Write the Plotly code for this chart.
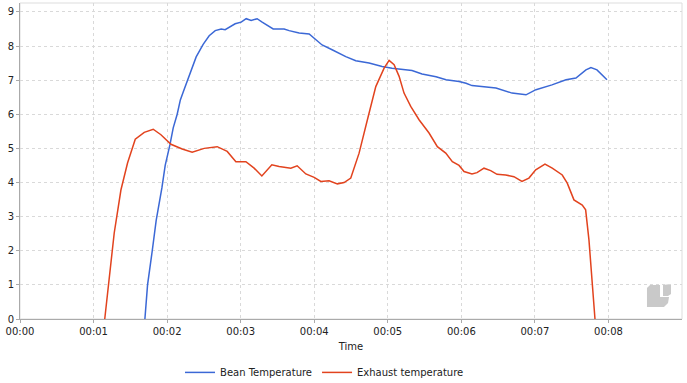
import plotly.graph_objects as go

# Time in minutes
bean_time = [1.698, 1.734, 1.798, 1.852, 1.929, 1.974, 2.038, 2.083, 2.137, 2.180, 2.219, 2.300,
             2.395, 2.490, 2.572, 2.654, 2.735, 2.789, 2.844, 2.925, 3.007, 3.075, 3.143, 3.224,
             3.292, 3.360, 3.442, 3.523, 3.591, 3.659, 3.704, 3.795, 3.931, 4.107, 4.243, 4.429,
             4.565, 4.746, 4.923, 5.058, 5.330, 5.466, 5.656, 5.792, 5.969, 6.064, 6.145, 6.200,
             6.471, 6.689, 6.879, 7.015, 7.232, 7.423, 7.558, 7.694, 7.762, 7.844, 7.980]
bean_temp = [0.0, 1.0, 2.0, 2.9, 3.84, 4.5, 5.1, 5.6, 6.0, 6.42, 6.65, 7.1,
             7.68, 8.05, 8.3, 8.45, 8.5, 8.48, 8.55, 8.65, 8.7, 8.8, 8.75, 8.8,
             8.7, 8.6, 8.5, 8.5, 8.5, 8.45, 8.43, 8.38, 8.35, 8.03, 7.89, 7.69,
             7.57, 7.50, 7.40, 7.35, 7.28, 7.18, 7.10, 7.01, 6.96, 6.91, 6.84, 6.83,
             6.77, 6.62, 6.57, 6.72, 6.86, 7.01, 7.06, 7.30, 7.37, 7.30, 7.01]

exh_time = [1.152, 1.213, 1.281, 1.372, 1.462, 1.567, 1.689, 1.811, 1.916, 2.052, 2.205, 2.341,
            2.504, 2.681, 2.817, 2.935, 3.071, 3.183, 3.288, 3.424, 3.523, 3.682, 3.768, 3.886,
            3.999, 4.090, 4.202, 4.315, 4.406, 4.497, 4.610, 4.723, 4.837, 4.950, 5.018, 5.086,
            5.154, 5.221, 5.312, 5.425, 5.561, 5.674, 5.788, 5.878, 5.969, 6.037, 6.145, 6.213,
            6.308, 6.399, 6.485, 6.603, 6.715, 6.824, 6.919, 7.011, 7.137, 7.236, 7.372, 7.440,
            7.531, 7.644, 7.690, 7.735, 7.772, 7.817]
exh_temp = [0.0, 1.14, 2.52, 3.78, 4.57, 5.27, 5.47, 5.56, 5.40, 5.12, 4.98, 4.89,
            5.0, 5.05, 4.91, 4.61, 4.61, 4.42, 4.19, 4.52, 4.47, 4.42, 4.49, 4.25,
            4.15, 4.03, 4.05, 3.96, 4.0, 4.13, 4.86, 5.84, 6.81, 7.35, 7.58, 7.45,
            7.11, 6.62, 6.23, 5.84, 5.45, 5.05, 4.86, 4.61, 4.50, 4.32, 4.25, 4.29,
            4.42, 4.35, 4.24, 4.22, 4.17, 4.03, 4.13, 4.37, 4.54, 4.42, 4.22, 3.98,
            3.49, 3.34, 3.20, 2.32, 1.14, 0.0]

x_ticks = [0, 1, 2, 3, 4, 5, 6, 7, 8]
x_tick_labels = ["00:00", "00:01", "00:02", "00:03", "00:04", "00:05", "00:06", "00:07", "00:08"]
y_ticks = [0, 1, 2, 3, 4, 5, 6, 7, 8, 9]

FONT = "DejaVu Sans"

fig = go.Figure()
fig.add_trace(go.Scatter(x=bean_time, y=bean_temp, mode="lines", name="Bean Temperature",
                         line=dict(color="#3b68d6", width=1.5)))
fig.add_trace(go.Scatter(x=exh_time, y=exh_temp, mode="lines", name="Exhaust temperature",
                         line=dict(color="#e2431e", width=1.5)))

axis_common = dict(showgrid=True, gridcolor="#d9d9d9", griddash="3px,3px", gridwidth=1,
                   zeroline=False, showline=True, linecolor="#aaaaaa", linewidth=1,
                   ticks="outside", ticklen=3, tickcolor="#aaaaaa", automargin=False,
                   tickfont=dict(family=FONT, size=10, color="#222222"))

fig.update_layout(
    width=687, height=383,
    margin=dict(l=20, r=5, t=3, b=64, autoexpand=False),
    paper_bgcolor="white", plot_bgcolor="white",
    font=dict(family=FONT, size=10, color="#222222"),
    xaxis=dict(range=[0, 9], tickvals=x_ticks, ticktext=x_tick_labels,
               title=dict(text="Time", font=dict(family=FONT, size=10, color="#222222"), standoff=6),
               **axis_common),
    yaxis=dict(range=[0, 9.26], tickvals=y_ticks, **axis_common),
    legend=dict(orientation="h", x=0.46, xanchor="center", y=-0.169, yanchor="middle",
                font=dict(family=FONT, size=10, color="#222222"), itemwidth=30),
    showlegend=True,
    shapes=[
        dict(type="rect", xref="paper", yref="paper", x0=0, x1=1, y0=0, y1=1,
             line=dict(color="#dddddd", width=1), layer="below"),
        dict(type="path", xref="paper", yref="paper",
             path="M0.9471,0.0981 L0.9517,0.1076 L0.9668,0.1076 L0.9668,0.0696 L0.9804,0.0696 "
                  "L0.9789,0.0506 L0.9728,0.0380 L0.9471,0.0380 Z",
             fillcolor="#c9c9c9", line=dict(width=0), layer="below"),
        dict(type="path", xref="paper", yref="paper",
             path="M0.9713,0.1076 L0.9834,0.1108 L0.9834,0.0791 L0.9789,0.0727 L0.9713,0.0727 Z",
             fillcolor="#c9c9c9", line=dict(width=0), layer="below"),
    ],
)

fig.write_html("out.html", config={"displayModeBar": False},
               post_script="document.body.style.margin='0';document.body.style.overflow='hidden';")
